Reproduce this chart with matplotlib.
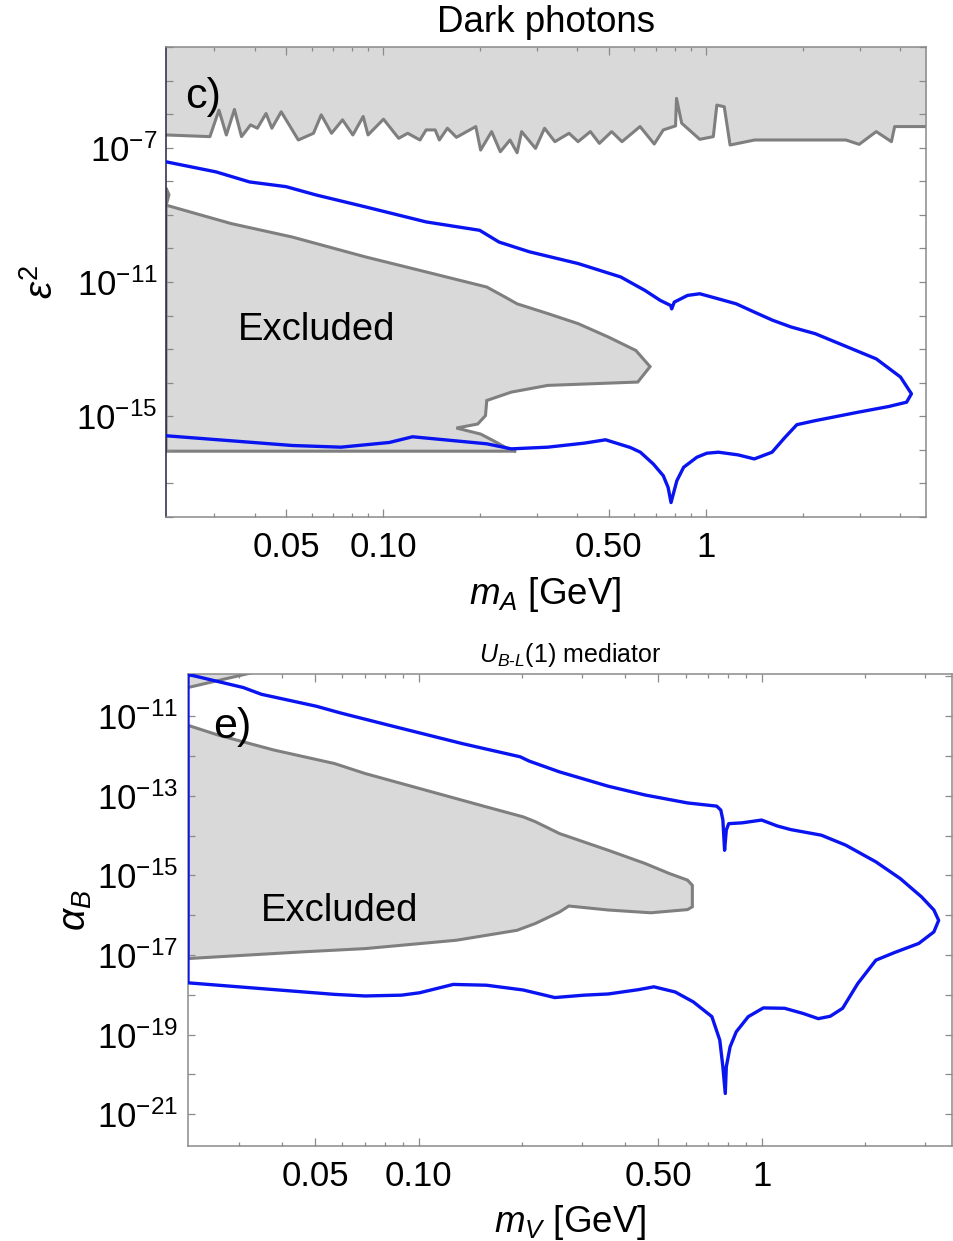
import numpy as np
import matplotlib.pyplot as plt
from matplotlib.ticker import FixedLocator, FixedFormatter, NullFormatter

plt.rcParams['font.family'] = ['Liberation Sans', 'DejaVu Sans']
plt.rcParams['mathtext.fontset'] = 'custom'
plt.rcParams['mathtext.rm'] = 'Liberation Sans'
plt.rcParams['mathtext.it'] = 'Liberation Sans:italic'
plt.rcParams['mathtext.bf'] = 'Liberation Sans:bold'

# ---- dark photon panel (log10 of mass in GeV, log10 of eps^2) ----
# upper excluded band (beam dump / collider limits)
dp_top_logm = [-1.673, -1.537, -1.509, -1.486, -1.461, -1.439, -1.411, -1.390, -1.363, -1.345,
               -1.316, -1.263, -1.216, -1.192, -1.160, -1.126, -1.094, -1.062, -1.047, -0.999,
               -0.952, -0.924, -0.886, -0.867, -0.839, -0.826, -0.801, -0.773, -0.713, -0.698,
               -0.664, -0.637, -0.607, -0.585, -0.571, -0.528, -0.500, -0.468, -0.424, -0.396,
               -0.358, -0.330, -0.292, -0.260, -0.204, -0.160, -0.132, -0.094, -0.091, -0.075,
               -0.019, 0.023, 0.034, 0.057, 0.075, 0.151, 0.434, 0.475, 0.528, 0.575, 0.585, 0.683]
dp_top_logeps2 = [-6.62, -6.67, -5.88, -6.62, -5.86, -6.67, -6.32, -6.42, -5.98, -6.42,
                  -5.93, -6.77, -6.57, -6.02, -6.57, -6.17, -6.62, -6.07, -6.62, -6.15,
                  -6.72, -6.57, -6.77, -6.47, -6.47, -6.77, -6.42, -6.69, -6.37, -7.07,
                  -6.52, -7.12, -6.77, -7.15, -6.52, -7.02, -6.42, -6.82, -6.57, -6.82,
                  -6.52, -6.87, -6.52, -6.82, -6.37, -6.89, -6.47, -6.35, -5.53, -6.27,
                  -6.75, -6.67, -5.73, -5.78, -6.92, -6.77, -6.77, -6.90, -6.52, -6.82, -6.37, -6.37]

# lower excluded region (supernova / displaced decay)
dp_excl_logm = [-1.673, -1.664, -1.670, -1.673, -1.471, -1.282, -1.056, -0.867, -0.679, -0.622,
                -0.585, -0.490, -0.396, -0.302, -0.217, -0.173, -0.211, -0.490, -0.603, -0.679,
                -0.683, -0.707, -0.773, -0.698, -0.660, -0.613, -0.588, -1.673]
dp_excl_logeps2 = [-8.20, -8.40, -8.62, -8.71, -9.26, -9.66, -10.25, -10.70, -11.15, -11.45,
                   -11.65, -11.94, -12.24, -12.64, -13.04, -13.52, -13.98, -14.08, -14.28, -14.53,
                   -14.98, -15.23, -15.35, -15.53, -15.72, -15.97, -16.04, -16.04]

# sensitivity contour
dp_reach_logm = [-1.673, -1.518, -1.414, -1.301, -1.207, -1.056, -0.867, -0.701, -0.641, -0.547,
                 -0.396, -0.264, -0.189, -0.141, -0.109, -0.106, -0.098, -0.057, -0.019, 0.038,
                 0.094, 0.151, 0.207, 0.264, 0.339, 0.528, 0.603, 0.637, 0.622, 0.566,
                 0.471, 0.339, 0.282, 0.245, 0.205, 0.150, 0.100, 0.039, 0.003, -0.028,
                 -0.069, -0.090, -0.108, -0.117, -0.132, -0.163, -0.203, -0.234, -0.311, -0.377,
                 -0.490, -0.603, -0.679, -0.909, -0.981, -1.131, -1.282, -1.673]
dp_reach_logeps2 = [-7.42, -7.72, -8.02, -8.16, -8.41, -8.76, -9.21, -9.46, -9.81, -10.10,
                    -10.45, -10.85, -11.25, -11.55, -11.70, -11.80, -11.60, -11.40, -11.35, -11.50,
                    -11.65, -11.90, -12.14, -12.34, -12.54, -13.29, -13.83, -14.33, -14.58, -14.71,
                    -14.88, -15.13, -15.25, -15.63, -16.07, -16.27, -16.15, -16.07, -16.10, -16.22,
                    -16.52, -16.92, -17.57, -17.12, -16.77, -16.42, -16.07, -15.93, -15.70, -15.80,
                    -15.92, -15.97, -15.82, -15.61, -15.78, -15.92, -15.87, -15.58]

# ---- U(1)_{B-L} panel (log10 of mass in GeV, log10 of alpha_B) ----
bl_corner_logm = [-1.672, -1.502, -1.45]
bl_corner_logalpha = [-10.28, -9.94, -9.84]

bl_excl_logm = [-1.672, -1.582, -1.422, -1.245, -1.156, -0.979, -0.802, -0.695, -0.660, -0.589,
                -0.447, -0.340, -0.270, -0.216, -0.202, -0.202, -0.216, -0.323, -0.447, -0.562,
                -0.589, -0.660, -0.713, -0.890, -1.156, -1.334, -1.672]
bl_excl_logalpha = [-11.23, -11.48, -11.85, -12.19, -12.44, -12.86, -13.28, -13.53, -13.65, -13.95,
                    -14.37, -14.70, -14.95, -15.12, -15.25, -15.79, -15.86, -15.94, -15.87, -15.77,
                    -15.92, -16.21, -16.38, -16.63, -16.84, -16.92, -17.09]

bl_reach_logm = [-1.672, -1.511, -1.458, -1.298, -1.227, -1.085, -0.872, -0.704, -0.677, -0.589,
                 -0.447, -0.340, -0.216, -0.131, -0.119, -0.113, -0.108, -0.103, -0.096, -0.057,
                 0.0, 0.046, 0.085, 0.174, 0.245, 0.333, 0.404, 0.466, 0.502, 0.516,
                 0.502, 0.458, 0.387, 0.333, 0.280, 0.236, 0.200, 0.165, 0.121, 0.067,
                 0.005, -0.039, -0.074, -0.092, -0.103, -0.106, -0.113, -0.122, -0.145, -0.199,
                 -0.252, -0.314, -0.358, -0.447, -0.518, -0.603, -0.695, -0.802, -0.899, -0.997,
                 -1.050, -1.156, -1.245, -1.422, -1.672, -1.672]
bl_reach_logalpha = [-9.95, -10.28, -10.45, -10.75, -10.92, -11.23, -11.69, -12.02, -12.13, -12.40,
                     -12.76, -12.98, -13.18, -13.26, -13.36, -13.61, -14.37, -13.86, -13.70, -13.68,
                     -13.61, -13.76, -13.85, -13.99, -14.24, -14.66, -15.08, -15.54, -15.87, -16.13,
                     -16.42, -16.71, -16.94, -17.13, -17.72, -18.34, -18.54, -18.60, -18.47, -18.34,
                     -18.33, -18.55, -18.93, -19.31, -19.81, -20.48, -19.81, -19.14, -18.55, -18.18,
                     -17.93, -17.80, -17.87, -17.98, -18.01, -18.07, -17.88, -17.76, -17.74, -17.95,
                     -18.01, -18.03, -17.99, -17.87, -17.70, -9.95]

# axis ticks
mass_major = [0.05, 0.1, 0.5, 1]
mass_labels = ['0.05', '0.10', '0.50', '1']
mass_minor = [0.03, 0.04, 0.06, 0.07, 0.08, 0.09, 0.2, 0.3, 0.4, 0.6, 0.7, 0.8, 0.9, 2, 3, 4]
dp_ymajor = [-7, -11, -15]
bl_ymajor = [-11, -13, -15, -17, -19, -21]

fill_c = '#d9d9d9'
edge_c = '#7f7f7f'
blue_c = '#0a14f0'
axis_c = '#8a8a8a'


def arr(v):
    return 10.0 ** np.array(v)


def style_axes(ax, xlim, ylog_lim, ymajor, xpad, ypad):
    ax.set_xscale('log')
    ax.set_yscale('log')
    ax.set_xlim(*xlim)
    ax.set_ylim(10.0 ** ylog_lim[0], 10.0 ** ylog_lim[1])
    ax.xaxis.set_major_locator(FixedLocator(mass_major))
    ax.xaxis.set_major_formatter(FixedFormatter(mass_labels))
    ax.xaxis.set_minor_locator(FixedLocator(mass_minor))
    ax.xaxis.set_minor_formatter(NullFormatter())
    decades = np.arange(int(np.ceil(ylog_lim[0])), int(np.floor(ylog_lim[1])) + 1)
    ax.yaxis.set_major_locator(FixedLocator(arr(ymajor)))
    ax.yaxis.set_major_formatter(FixedFormatter([r'$10^{%d}$' % e for e in ymajor]))
    ax.yaxis.set_minor_locator(FixedLocator(arr([d for d in decades if d not in ymajor])))
    ax.yaxis.set_minor_formatter(NullFormatter())
    ax.tick_params(which='both', direction='in', top=True, right=True,
                   color=axis_c, width=0.9)
    ax.tick_params(axis='x', which='major', length=5.5, labelsize=25, pad=xpad)
    ax.tick_params(axis='x', which='minor', length=2.8)
    ax.tick_params(axis='y', which='both', length=5, labelsize=25, pad=ypad)
    for s in ax.spines.values():
        s.set_color(axis_c)
        s.set_linewidth(1.1)


fig = plt.figure(figsize=(9.54, 12.41), dpi=100)

# dark photons
ax1 = fig.add_axes([166 / 954, 1 - 517 / 1241, 760 / 954, 470 / 1241])
ax1.fill_between(arr(dp_top_logm), arr(dp_top_logeps2), 1e-3, color=fill_c, lw=0)
ax1.plot(arr(dp_top_logm), arr(dp_top_logeps2), color=edge_c, lw=2.2)
ax1.fill(arr(dp_excl_logm), arr(dp_excl_logeps2), facecolor=fill_c, edgecolor=edge_c, lw=2.2)
ax1.plot(arr(dp_reach_logm), arr(dp_reach_logeps2), color=blue_c, lw=2.4, zorder=3)
ax1.text(10 ** -1.205, 10 ** -12.44, 'Excluded', fontsize=27.5, ha='center', va='center')
ax1.text(0.049, 0.894, 'c)', transform=ax1.transAxes, fontsize=31, ha='center', va='center')
style_axes(ax1, (0.02123, 4.81), (-18, -4), dp_ymajor, 10, 6)
ax1.spines['left'].set_color('#23233f')

# B-L mediator
ax2 = fig.add_axes([188 / 954, 1 - 1146 / 1241, 764.5 / 954, 472 / 1241])
ax2.fill_between(arr(bl_corner_logm), arr(bl_corner_logalpha), 1e-8, color=fill_c, lw=0)
ax2.plot(arr(bl_corner_logm), arr(bl_corner_logalpha), color=edge_c, lw=2.2)
ax2.fill(arr(bl_excl_logm), arr(bl_excl_logalpha), facecolor=fill_c, edgecolor=edge_c, lw=2.2)
ax2.plot(arr(bl_reach_logm), arr(bl_reach_logalpha), color=blue_c, lw=2.4, zorder=3)
ax2.text(10 ** -1.229, 10 ** -15.90, 'Excluded', fontsize=27.5, ha='center', va='center')
ax2.text(0.058, 0.888, 'e)', transform=ax2.transAxes, fontsize=31, ha='center', va='center')
style_axes(ax2, (0.02128, 3.60), (-21.80, -9.94), bl_ymajor, 10, 7)

# titles and axis labels
fig.text(546 / 954, 1 - 22 / 1241, 'Dark photons', fontsize=26.5, ha='center', va='center')
fig.text(545 / 954, 1 - 594 / 1241, r'$m_A$ [GeV]', fontsize=26.5, ha='center', va='center')
fig.text(42 / 954, 1 - 282 / 1241, r'$\varepsilon^2$', fontsize=28, ha='center', va='center',
         rotation=90)
fig.text(570 / 954, 1 - 655 / 1241, r'$U_{B\text{-}L}(1)$ mediator', fontsize=18,
         ha='center', va='center')
fig.text(570 / 954, 1 - 1222 / 1241, r'$m_V$ [GeV]', fontsize=26.5, ha='center', va='center')
fig.text(76 / 954, 1 - 910 / 1241, r'$\alpha_B$', fontsize=28, ha='center', va='center',
         rotation=90)

fig.savefig('out.png', dpi=100)
